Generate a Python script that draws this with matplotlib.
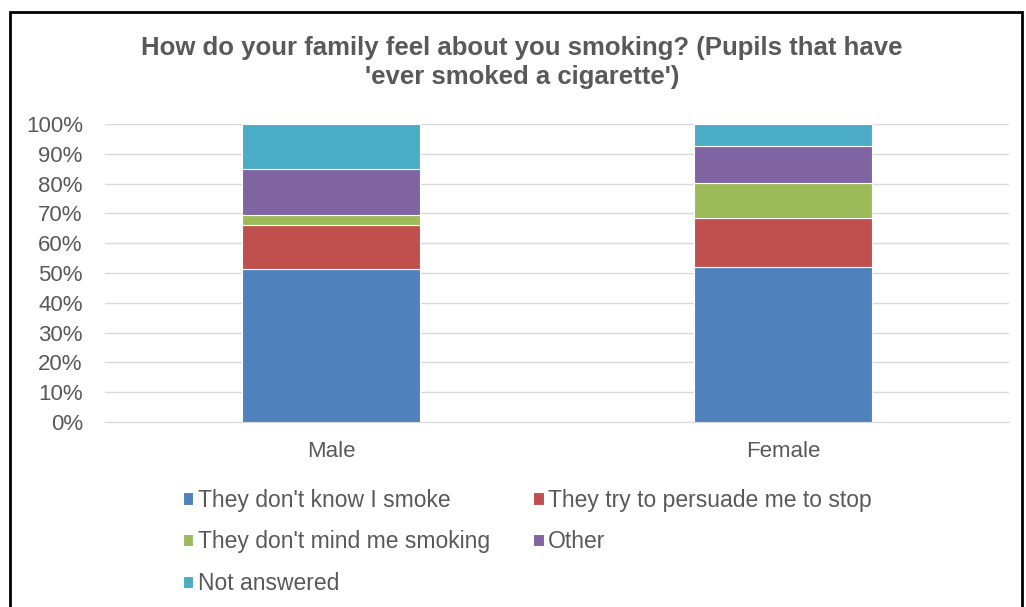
import matplotlib.pyplot as plt
import matplotlib.patches as mpatches
from matplotlib.ticker import PercentFormatter

plt.rcParams['font.family'] = ['Liberation Sans', 'DejaVu Sans']

categories = ['Male', 'Female']
series_names = ["They don't know I smoke", "They try to persuade me to stop",
                "They don't mind me smoking", "Other", "Not answered"]
# percent of pupils, bottom to top
dont_know = [51.2, 52.0]
persuade = [15.0, 16.4]
dont_mind = [3.4, 11.7]
other = [15.4, 12.5]
not_answered = [15.0, 7.4]
colors = ['#4f81bd', '#c0504d', '#9bbb59', '#8064a2', '#4bacc6']

values = [dont_know, persuade, dont_mind, other, not_answered]

dpi = 100
fig = plt.figure(figsize=(1026 / dpi, 607 / dpi), dpi=dpi)
ax = fig.add_axes([105 / 1026, 1 - 422 / 607, 904 / 1026, 298 / 607])

x = range(len(categories))
bottom = [0.0] * len(categories)
handles = []
for name, vals, col in zip(series_names, values, colors):
    b = ax.bar(x, vals, 0.394, bottom=bottom, color=col, edgecolor='white',
               linewidth=0.8, label=name, zorder=3)
    handles.append(b)
    bottom = [p + v for p, v in zip(bottom, vals)]

ax.set_xlim(-0.5, 1.5)
ax.set_ylim(0, 100)
ax.set_yticks(range(0, 101, 10))
ax.yaxis.set_major_formatter(PercentFormatter(decimals=0))
ax.set_xticks(list(x))
ax.set_xticklabels(categories)
ax.grid(axis='y', color='#d9d9d9', linewidth=1, zorder=0)
for s in ['top', 'right', 'left']:
    ax.spines[s].set_visible(False)
ax.spines['bottom'].set_color('#d9d9d9')
ax.tick_params(axis='both', length=0, labelsize=16, colors='#595959')
ax.tick_params(axis='x', pad=14)
ax.tick_params(axis='y', pad=16)

fig.suptitle("How do your family feel about you smoking? (Pupils that have\n'ever smoked a cigarette')",
             x=522 / 1026, y=1 - 36 / 607, va='top', fontsize=18.5, fontweight='bold',
             color='#595959', linespacing=1.27)

order = [0, 2, 4, 1, 3]
leg = fig.legend([handles[i] for i in order], [series_names[i] for i in order],
                 ncol=2, loc='upper left', bbox_to_anchor=(162 / 1026, 1 - 468 / 607),
                 frameon=False, fontsize=16.5, handlelength=0.45, handleheight=0.45,
                 handletextpad=0.2, columnspacing=1.9, labelspacing=0.82,
                 labelcolor='#595959')

# outer black frame
fig.patches.append(mpatches.Rectangle((10 / 1026, -0.05), 1012 / 1026, 1.05 - 12 / 607,
                                      transform=fig.transFigure, fill=False,
                                      edgecolor='black', linewidth=2))

fig.savefig('out.png', dpi=dpi)
